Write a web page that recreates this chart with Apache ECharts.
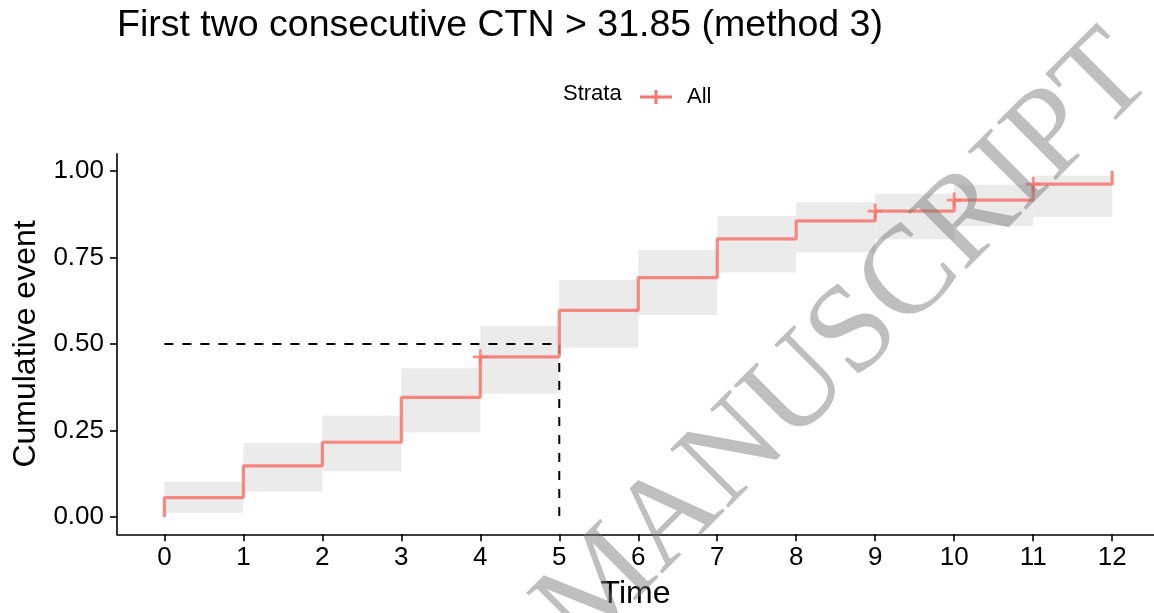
<!DOCTYPE html>
<html>
<head>
<meta charset="utf-8">
<title>Cumulative event curve</title>
<script src="https://cdn.jsdelivr.net/npm/echarts@6/dist/echarts.min.js"></script>
<style>
  html, body { margin: 0; padding: 0; background: #fff; }
  #chart { width: 1154px; height: 613px; }
</style>
</head>
<body>
<div id="chart"></div>
<script>
// Kaplan-Meier style cumulative event curve with 95% band
const stepTimes = [0, 0, 1, 2, 3, 4, 5, 6, 7, 8, 9, 10, 11, 12];
const cumEvent  = [0, 0.056, 0.148, 0.216, 0.346, 0.463, 0.597, 0.692, 0.804, 0.856, 0.884, 0.916, 0.962, 1.0];

// confidence band, one rectangle per interval
const bandStart = [0, 1, 2, 3, 4, 5, 6, 7, 8, 9, 10, 11];
const bandEnd   = [1, 2, 3, 4, 5, 6, 7, 8, 9, 10, 11, 12];
const bandLower = [0.012, 0.074, 0.132, 0.244, 0.356, 0.489, 0.584, 0.707, 0.765, 0.803, 0.841, 0.868];
const bandUpper = [0.102, 0.213, 0.293, 0.430, 0.553, 0.685, 0.772, 0.870, 0.910, 0.934, 0.960, 0.986];

// censored observations
const censorTimes  = [4, 9, 10, 11];
const censorValues = [0.463, 0.884, 0.916, 0.962];

// median guide
const medianTime = 5;
const medianLevel = 0.5;

const xTicks = [0, 1, 2, 3, 4, 5, 6, 7, 8, 9, 10, 11, 12];
const yTicks = [0, 0.25, 0.5, 0.75, 1];

const RED = '#F8766D';
const FONT = 'Liberation Sans, Arial, sans-serif';

const chart = echarts.init(document.getElementById('chart'), null, { renderer: 'canvas' });

const curveData = stepTimes.map((t, i) => [t, cumEvent[i]]);
const bandData = bandStart.map((s, i) => [s, bandEnd[i], bandLower[i], bandUpper[i]]);
const censorData = censorTimes.map((t, i) => [t, censorValues[i]]);
const medianData = [[0, medianLevel], [medianTime, medianLevel], [medianTime, 0]];

const plusIcon = 'path://M0,6.5h16v3h-16z M6.5,0h3v16h-3z';
const legendIcon = 'path://M0,5.5h32v3h-32z M14.5,0h3v14h-3z';

chart.setOption({
  animation: false,
  backgroundColor: '#fff',
  title: {
    text: 'First two consecutive CTN > 31.85 (method 3)',
    left: 112,
    top: 2,
    textStyle: { fontFamily: FONT, fontSize: 37.5, fontWeight: 'normal', color: '#000' }
  },
  legend: {
    data: [{ name: 'All', icon: legendIcon }],
    left: 640,
    top: 86,
    padding: 0,
    itemWidth: 32,
    itemHeight: 14,
    textStyle: { fontFamily: FONT, fontSize: 22, color: '#000', padding: [0, 0, 0, 10] }
  },
  grid: { left: 117, right: 0, top: 153.7, bottom: 78.7, containLabel: false, outerBoundsMode: 'none' },
  xAxis: {
    type: 'value',
    min: -0.6,
    max: 12.53,
    splitLine: { show: false },
    axisLine: { show: true, onZero: false, lineStyle: { color: '#000', width: 1.6 } },
    axisTick: { show: true, length: 7, customValues: xTicks, lineStyle: { color: '#000', width: 1.6 } },
    axisLabel: { customValues: xTicks, margin: 11, fontFamily: FONT, fontSize: 26, color: '#000' },
    name: 'Time',
    nameLocation: 'middle',
    nameGap: 44,
    nameTextStyle: { fontFamily: FONT, fontSize: 32, color: '#000' }
  },
  yAxis: {
    type: 'value',
    min: -0.05,
    max: 1.05,
    splitLine: { show: false },
    axisLine: { show: true, onZero: false, lineStyle: { color: '#000', width: 1.6 } },
    axisTick: { show: true, length: 7, customValues: yTicks, lineStyle: { color: '#000', width: 1.6 } },
    axisLabel: {
      customValues: yTicks, margin: 13, fontFamily: FONT, fontSize: 26, color: '#000',
      formatter: v => v.toFixed(2)
    },
    name: 'Cumulative event',
    nameLocation: 'middle',
    nameGap: 74,
    nameRotate: 90,
    nameTextStyle: { fontFamily: FONT, fontSize: 32, color: '#000' }
  },
  series: [
    {
      name: 'band',
      type: 'custom',
      data: bandData,
      encode: { x: [0, 1], y: [2, 3] },
      silent: true,
      z: 1,
      renderItem: (params, api) => {
        const p0 = api.coord([api.value(0), api.value(3)]);
        const p1 = api.coord([api.value(1), api.value(2)]);
        return {
          type: 'rect',
          shape: { x: p0[0], y: p0[1], width: p1[0] - p0[0], height: p1[1] - p0[1] },
          style: { fill: '#EBEBEB' }
        };
      }
    },
    {
      name: 'median',
      type: 'line',
      data: medianData,
      showSymbol: false,
      silent: true,
      z: 2,
      lineStyle: { color: '#000', width: 2, type: [9, 9] }
    },
    {
      name: 'All',
      type: 'line',
      step: 'end',
      data: curveData,
      showSymbol: false,
      z: 3,
      itemStyle: { color: RED },
      lineStyle: { color: RED, width: 3.2, opacity: 0.85 }
    },
    {
      name: 'censor',
      type: 'scatter',
      data: censorData,
      symbol: plusIcon,
      symbolSize: 15,
      z: 4,
      itemStyle: { color: RED }
    }
  ],
  graphic: [
    {
      type: 'text',
      left: 563,
      top: 83,
      style: { text: 'Strata', fontFamily: FONT, fontSize: 22, fill: '#000' }
    },
    {
      type: 'text',
      x: 1133,
      y: 56,
      rotation: Math.PI / 4,
      z: 100,
      silent: true,
      style: {
        text: 'ACCEPTED MANUSCRIPT',
        align: 'right',
        verticalAlign: 'middle',
        fontFamily: 'Liberation Serif, Times New Roman, serif',
        fontSize: 126,
        fill: 'rgba(120,120,120,0.47)'
      }
    }
  ]
});
</script>
</body>
</html>
